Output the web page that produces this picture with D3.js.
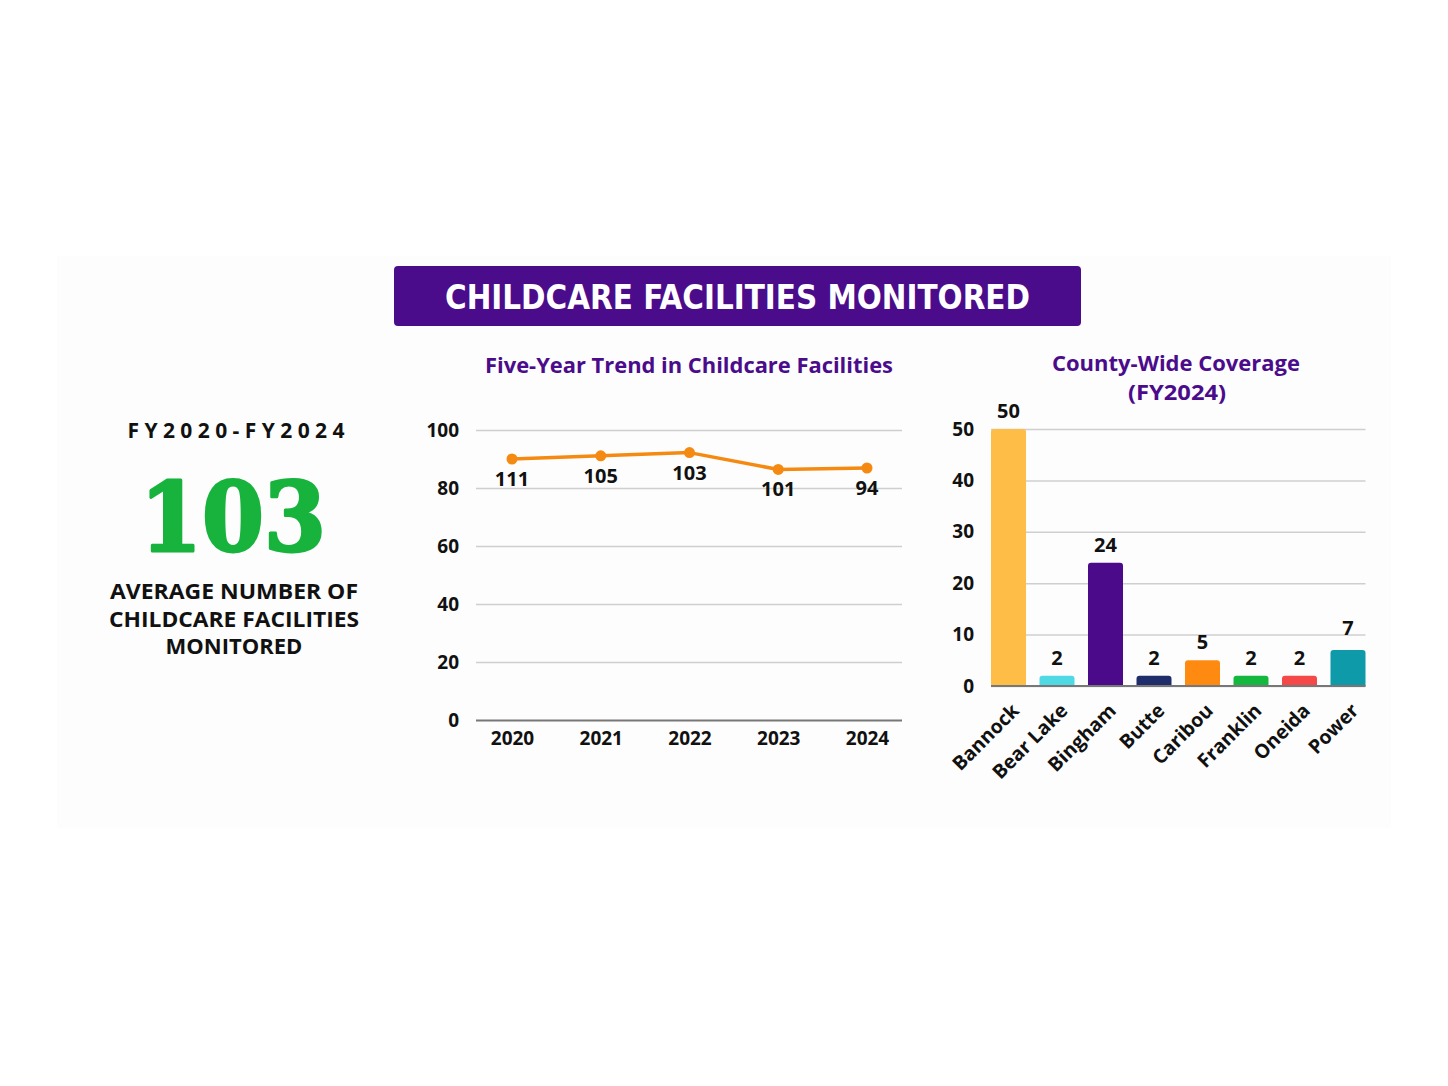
<!DOCTYPE html>
<html><head><meta charset="utf-8">
<script src="https://cdn.jsdelivr.net/npm/d3@7"></script>
<style>
html,body{margin:0;padding:0;background:#fff;}
svg{display:block;font-family:"Open Sans",sans-serif;}
</style></head>
<body>
<svg id="chart" width="1448" height="1086"></svg>
<script>
// ---- data ----
const years = ["2020","2021","2022","2023","2024"];
const trendPlotted = [90, 91.1, 92.2, 86.4, 86.9];   // positions of points as drawn
const trendLabels = ["111","105","103","101","94"];   // labels printed on the points
const trendTicks = [0,20,40,60,80,100];

const counties = ["Bannock","Bear Lake","Bingham","Butte","Caribou","Franklin","Oneida","Power"];
const countyValues = [50,2,24,2,5,2,2,7];
const countyColors = ["#FDBD46","#4FD9E4","#4B0A8A","#1F2D6B","#FF8A12","#14B83F","#F54848","#0E9AA8"];
const countyTicks = [0,10,20,30,40,50];

const mainTitle = "CHILDCARE FACILITIES MONITORED";
const kpiPeriod = "FY2020-FY2024";
const kpiValue = "103";
const kpiCaption = ["AVERAGE NUMBER OF","CHILDCARE FACILITIES","MONITORED"];

const purple = "#4B0C8C";
const svg = d3.select("#chart");

// faint panel
svg.append("rect").attr("x",57).attr("y",256).attr("width",1334).attr("height",572).attr("fill","#fdfdfd");

// banner
svg.append("rect").attr("x",394).attr("y",266).attr("width",687).attr("height",60).attr("rx",4).attr("fill",purple);
svg.append("text").attr("x",737.5).attr("y",309).attr("text-anchor","middle")
  .attr("fill","#fff").attr("font-family","'Liberation Sans Narrow','DejaVu Sans Condensed',sans-serif")
  .attr("font-weight",700).attr("font-size",33)
  .attr("textLength",585).attr("lengthAdjust","spacingAndGlyphs").text(mainTitle);

// KPI
svg.append("text").attr("x",236).attr("y",438).attr("text-anchor","middle")
  .attr("font-size",21).attr("font-weight",700).attr("fill","#111")
  .attr("textLength",217).attr("lengthAdjust","spacing").text(kpiPeriod);
svg.append("text").attr("x",233).attr("y",551).attr("text-anchor","middle")
  .attr("font-family","'DejaVu Serif',serif").attr("font-weight",700).attr("font-size",96)
  .attr("fill","#17B33D").attr("stroke","#17B33D").attr("stroke-width",3).attr("stroke-linejoin","round")
  .attr("textLength",186).attr("lengthAdjust","spacingAndGlyphs").text(kpiValue);
kpiCaption.forEach((t,i)=>{
  svg.append("text").attr("x",234).attr("y",599+i*27.5).attr("text-anchor","middle")
    .attr("font-size",22).attr("font-weight",700).attr("fill","#111")
    .attr("textLength", i===2 ? null : (i===0 ? 248 : 250)).attr("lengthAdjust","spacingAndGlyphs").text(t);
});

// ---- line chart ----
const lx0 = 476, lx1 = 902, ly0 = 720, ly1 = 430;
const ly = d3.scaleLinear().domain([0,100]).range([ly0,ly1]);
const lxp = d3.scalePoint().domain(years).range([512,867]);
const lg = svg.append("g");
svg.append("text").attr("x",689).attr("y",373).attr("text-anchor","middle")
  .attr("font-size",22).attr("font-weight",700).attr("fill",purple)
  .attr("textLength",408).attr("lengthAdjust","spacingAndGlyphs").text("Five-Year Trend in Childcare Facilities");

const yAxisL = d3.axisLeft(ly).tickValues(trendTicks).tickSize(-(lx1-lx0)).tickPadding(17);
const gL = lg.append("g").attr("transform",`translate(${lx0},0)`).call(yAxisL);
gL.select(".domain").remove();
gL.selectAll(".tick line").attr("stroke","#cfcfcf").attr("stroke-width",1.5);
gL.selectAll(".tick text").attr("font-size",19).attr("font-weight",700).attr("fill","#111").attr("font-family","'Open Sans',sans-serif");
gL.selectAll(".tick").filter(d=>d===0).select("line").attr("stroke","#777").attr("stroke-width",2);

const xAxisL = d3.axisBottom(lxp).tickSize(0).tickPadding(12);
const gLx = lg.append("g").attr("transform",`translate(0,${ly0})`).call(xAxisL);
gLx.select(".domain").remove();
gLx.selectAll(".tick text").attr("font-size",19).attr("font-weight",700).attr("fill","#111").attr("font-family","'Open Sans',sans-serif");

const line = d3.line().x((d,i)=>lxp(years[i])).y(d=>ly(d));
lg.append("path").datum(trendPlotted).attr("d",line).attr("fill","none")
  .attr("stroke","#F58A12").attr("stroke-width",3.5).attr("stroke-linejoin","round");
lg.selectAll("circle.pt").data(trendPlotted).join("circle").attr("class","pt")
  .attr("cx",(d,i)=>lxp(years[i])).attr("cy",d=>ly(d)).attr("r",5.5).attr("fill","#F58A12");
lg.selectAll("text.vl").data(trendPlotted).join("text").attr("class","vl")
  .attr("x",(d,i)=>lxp(years[i])).attr("y",d=>ly(d)+27).attr("text-anchor","middle")
  .attr("font-size",20).attr("font-weight",700).attr("fill","#111").text((d,i)=>trendLabels[i]);

// ---- bar chart ----
svg.append("text").attr("x",1176).attr("y",371).attr("text-anchor","middle")
  .attr("font-size",21).attr("font-weight",700).attr("fill",purple)
  .attr("textLength",248).attr("lengthAdjust","spacingAndGlyphs").text("County-Wide Coverage");
svg.append("text").attr("x",1177).attr("y",400).attr("text-anchor","middle")
  .attr("font-size",21).attr("font-weight",700).attr("fill",purple)
  .attr("textLength",98).attr("lengthAdjust","spacingAndGlyphs").text("(FY2024)");

const bx0 = 991, bx1 = 1365.5, by0 = 686, by1 = 429;
const by = d3.scaleLinear().domain([0,50]).range([by0,by1]);
const bx = d3.scaleBand().domain(counties).range([bx0,bx1]).paddingInner(0.278).paddingOuter(0);
const bg = svg.append("g");
const yAxisB = d3.axisLeft(by).tickValues(countyTicks).tickSize(-(bx1-bx0)).tickPadding(17);
const gB = bg.append("g").attr("transform",`translate(${bx0},0)`).call(yAxisB);
gB.select(".domain").remove();
gB.selectAll(".tick line").attr("stroke","#cfcfcf").attr("stroke-width",1.5);
gB.selectAll(".tick text").attr("font-size",19).attr("font-weight",700).attr("fill","#111").attr("font-family","'Open Sans',sans-serif");

bg.selectAll("path.bar").data(countyValues).join("path").attr("class","bar")
  .attr("d",(d,i)=>{
    const x=bx(counties[i]), w=bx.bandwidth(), y=by(d), h=by0-y, r=Math.min(3,h/2);
    return `M${x},${by0}V${y+r}Q${x},${y} ${x+r},${y}H${x+w-r}Q${x+w},${y} ${x+w},${y+r}V${by0}Z`;
  })
  .attr("fill",(d,i)=>countyColors[i]);
bg.append("line").attr("x1",bx0).attr("x2",bx1).attr("y1",by0).attr("y2",by0).attr("stroke","#777").attr("stroke-width",2);
bg.selectAll("text.bv").data(countyValues).join("text").attr("class","bv")
  .attr("x",(d,i)=>bx(counties[i])+bx.bandwidth()/2).attr("y",d=>by(d)-(d===7?15:11))
  .attr("text-anchor","middle").attr("font-size",20).attr("font-weight",700).attr("fill","#111").text(d=>d);

const xAxisB = d3.axisBottom(bx).tickSize(0).tickPadding(0);
const gBx = bg.append("g").attr("transform",`translate(0,${by0})`).call(xAxisB);
gBx.select(".domain").remove();
gBx.selectAll(".tick text").attr("font-size",19.5).attr("font-weight",700).attr("fill","#111")
  .attr("font-family","'Open Sans',sans-serif")
  .attr("text-anchor","end").attr("dy","0.35em")
  .attr("transform","translate(7,21) rotate(-45)");
</script>
</body></html>
